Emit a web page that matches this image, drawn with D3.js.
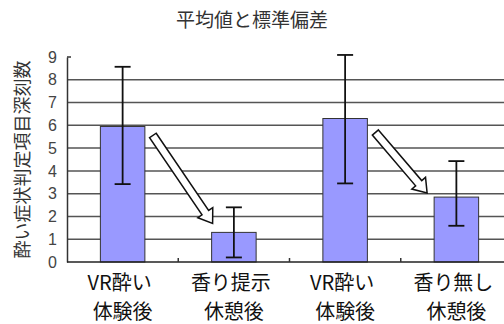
<!DOCTYPE html>
<html><head><meta charset="utf-8">
<script src="https://cdn.jsdelivr.net/npm/d3@7"></script>
<style>body{margin:0;background:#fff}svg{display:block}</style>
</head><body><svg id="c" width="504" height="324"></svg>
<script>
const title = "平均値と標準偏差";
const yTitle = "酔い症状判定項目深刻数";
const categoriesLine1 = ["VR酔い", "香り提示", "VR酔い", "香り無し"];
const categoriesLine2 = ["体験後", "休憩後", "体験後", "休憩後"];
const means = [5.95, 1.3, 6.3, 2.85];
const errHigh = [8.57, 2.4, 9.09, 4.43];
const errLow = [3.42, 0.2, 3.45, 1.59];
const yTicks = [0,1,2,3,4,5,6,7,8,9];
const arrowPairs = [[0,1],[2,3]];

(function(){
const svg = d3.select("#c");
const font = "'Noto Sans CJK JP','Noto Sans',sans-serif";
const pL = 67, pR = 512, pT = 57, pB = 262;
const x = d3.scaleBand().domain(d3.range(means.length)).range([pL, pR]).paddingInner(0.6).paddingOuter(0.3);
const y = d3.scaleLinear().domain([0, 9]).range([pB, pT]);

svg.append("text").attr("x", 252).attr("y", 27).attr("text-anchor","middle")
  .attr("font-family", font).attr("font-size", 19).attr("fill","#333").text(title);

// gridlines
svg.append("g").selectAll("line").data(yTicks.filter(t => t > 0 && t < 9)).join("line")
  .attr("x1", pL).attr("x2", 504).attr("y1", d => y(d)).attr("y2", d => y(d))
  .attr("stroke", "#555").attr("stroke-width", 1.5);

// y axis
const yAxis = svg.append("g").attr("transform", `translate(${pL},0)`)
  .call(d3.axisLeft(y).tickValues(yTicks).tickSize(0).tickPadding(10).tickFormat(d3.format("d")));
yAxis.select(".domain").attr("stroke","#333").attr("stroke-width",1.5);
yAxis.selectAll("text").attr("font-family","'Liberation Sans',Arial,sans-serif").attr("font-size",16).attr("fill","#444");
svg.append("line").attr("x1", pL).attr("x2", pL+4).attr("y1", y(9)).attr("y2", y(9)).attr("stroke","#333").attr("stroke-width",1.5);

svg.append("text").attr("transform", `translate(29,${(pT+pB)/2}) rotate(-90)`)
  .attr("text-anchor","middle").attr("font-family", font).attr("font-size", 18).attr("fill","#333").text(yTitle);

// bars
svg.append("g").selectAll("rect").data(means).join("rect")
  .attr("x", (d,i) => x(i)).attr("width", x.bandwidth())
  .attr("y", d => y(d)).attr("height", d => y(0) - y(d))
  .attr("fill", "#9999ff").attr("stroke", "#333").attr("stroke-width", 1);

// x axis
svg.append("line").attr("x1", pL).attr("x2", 504).attr("y1", pB).attr("y2", pB).attr("stroke","#222").attr("stroke-width",1.5);
const step = x.step();
svg.append("g").selectAll("line").data(d3.range(1, means.length)).join("line")
  .attr("x1", i => pL + step*i).attr("x2", i => pL + step*i)
  .attr("y1", pB).attr("y2", pB - 4).attr("stroke","#333").attr("stroke-width",1.5);

// error bars
const eb = svg.append("g").attr("stroke", "#111").attr("stroke-width", 1.8);
means.forEach((m, i) => {
  const cx = x(i) + x.bandwidth()/2;
  eb.append("line").attr("x1", cx).attr("x2", cx).attr("y1", y(errHigh[i])).attr("y2", y(errLow[i]));
  [errHigh[i], errLow[i]].forEach(v => {
    eb.append("line").attr("x1", cx-8).attr("x2", cx+8).attr("y1", y(v)).attr("y2", y(v));
  });
});

// x labels
svg.append("g").selectAll("text").data(categoriesLine1).join("text")
  .attr("x", (d,i) => x(i) + x.bandwidth()/2 - 3).attr("y", 290).attr("text-anchor","middle")
  .attr("font-family", font).attr("font-size", 20).attr("fill","#111").text(d => d);
svg.append("g").selectAll("text").data(categoriesLine2).join("text")
  .attr("x", (d,i) => x(i) + x.bandwidth()/2).attr("y", 319).attr("text-anchor","middle")
  .attr("font-family", font).attr("font-size", 20).attr("fill","#111").text(d => d);

// block arrows
function blockArrow(x0, y0, x1, y1) {
  const len = Math.hypot(x1-x0, y1-y0);
  const ang = Math.atan2(y1-y0, x1-x0) * 180 / Math.PI;
  const sw = 4, hw = 9, hl = 13;
  const pts = [[0,-sw],[len-hl,-sw],[len-hl,-hw],[len,0],[len-hl,hw],[len-hl,sw],[0,sw]];
  svg.append("polygon").attr("points", pts.map(p => p.join(",")).join(" "))
    .attr("transform", `translate(${x0},${y0}) rotate(${ang})`)
    .attr("fill", "#fff").attr("stroke", "#111").attr("stroke-width", 1.5);
}
arrowPairs.forEach(([a,b], k) => {
  const x0 = x(a) + x.bandwidth() + 8;
  const y0 = y(means[a]) + (k === 0 ? 9 : 14);
  const x1 = x(b) + (k === 0 ? 1 : -7);
  const y1 = y(means[b]) - (k === 0 ? 9 : 4);
  blockArrow(x0, y0, x1, y1);
});
})();
</script></body></html>
